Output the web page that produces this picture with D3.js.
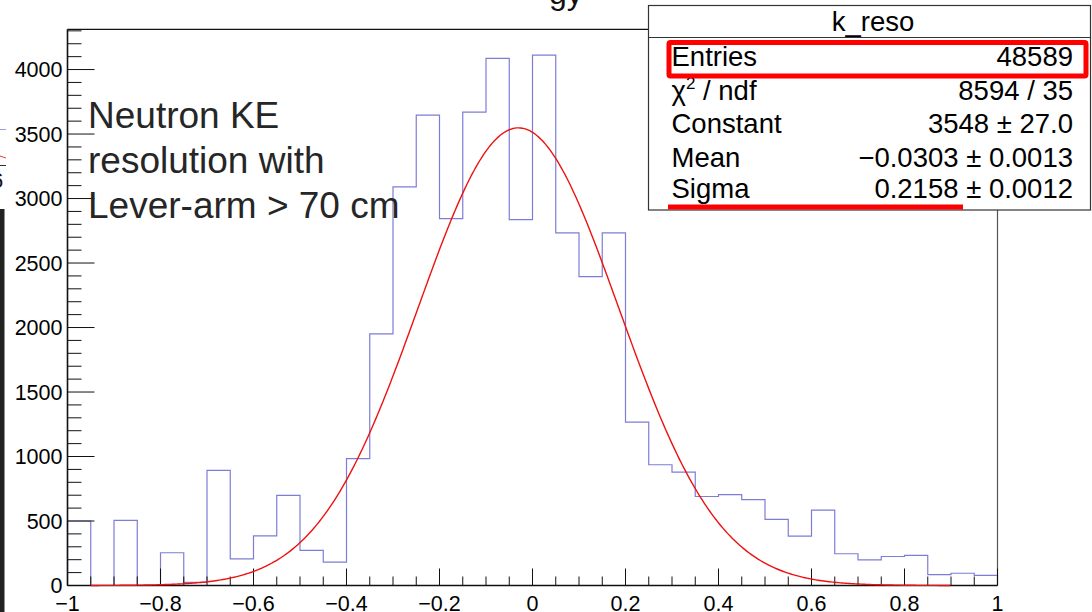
<!DOCTYPE html>
<html>
<head>
<meta charset="utf-8">
<script src="https://cdn.jsdelivr.net/npm/d3@7/dist/d3.min.js"></script>
<style>
  html, body { margin: 0; padding: 0; background: #ffffff; overflow: hidden; }
  svg { display: block; font-family: "Liberation Sans", Arial, Helvetica, sans-serif; }
</style>
</head>
<body>
<svg id="chart" width="1092" height="612"></svg>
<script>
// ---------------- data ----------------
const binLow = -1;
const binWidth = 0.05;
const binCounts = [
  500, 0, 505, 0, 254, 25, 892, 207, 385, 698,
  272, 181, 983, 1950, 3090, 3646, 2845, 3670, 4086, 2837,
  4112, 2733, 2395, 2733, 1267, 936, 879, 690, 704, 665,
  512, 383, 584, 246, 199, 225, 233, 85, 95, 78
];
const fitConstant = 3548;
const fitMean = -0.0303;
const fitSigma = 0.2158;
const fitRange = [-0.95, 0.9];

const xTickValues = [-1, -0.8, -0.6, -0.4, -0.2, 0, 0.2, 0.4, 0.6, 0.8, 1];
const yTickValues = [0, 500, 1000, 1500, 2000, 2500, 3000, 3500, 4000];

const statsTitle = "k_reso";
const statLabels = ["Entries", "χ2 / ndf", "Constant", "Mean", "Sigma"];
const statValues = ["48589", "8594 / 35", "3548 ± 27.0", "\u22120.0303 ± 0.0013", "0.2158 ± 0.0012"];

const noteLines = ["Neutron KE", "resolution with", "Lever-arm > 70 cm"];
const titleFragment = "gy";

// ---------------- layout ----------------
const svg = d3.select("#chart");
const W = 1092, H = 612;
const x = d3.scaleLinear().domain([-1, 1]).range([67.5, 997.5]);
const y = d3.scaleLinear().domain([0, 4312]).range([585.5, 29.3]);
const fmt = v => (v < 0 ? "\u2212" : "") + d3.format("")(Math.abs(v));

// left-edge slide artifacts
svg.append("rect").attr("x", 0).attr("y", 209).attr("width", 4.5).attr("height", H - 209).attr("fill", "#222");
svg.append("line").attr("x1", 0).attr("x2", 6).attr("y1", 129.5).attr("y2", 129.5).attr("stroke", "#9aa0d8").attr("stroke-width", 1);
svg.append("line").attr("x1", 0).attr("x2", 6).attr("y1", 156).attr("y2", 158).attr("stroke", "#e04040").attr("stroke-width", 1);
svg.append("line").attr("x1", 0).attr("x2", 6).attr("y1", 165.5).attr("y2", 165.5).attr("stroke", "#333").attr("stroke-width", 1);
svg.append("text").attr("x", -9).attr("y", 188).attr("font-size", 22).attr("fill", "#111").text("6");

// cut-off title fragment
svg.append("text").attr("x", 549).attr("y", 4).attr("font-size", 32).attr("fill", "#111").text(titleFragment);

// frame
const frame = svg.append("g");
frame.append("line").attr("x1", x(-1)).attr("x2", x(1)).attr("y1", y.range()[1]).attr("y2", y.range()[1])
  .attr("stroke", "#111").attr("stroke-width", 1.2);
frame.append("line").attr("x1", x(1)).attr("x2", x(1)).attr("y1", y.range()[1]).attr("y2", y(0))
  .attr("stroke", "#555").attr("stroke-width", 1.2);

// histogram
const histPts = [[x(binLow), y(0)]];
binCounts.forEach((c, i) => {
  const a = binLow + i * binWidth, b = a + binWidth;
  histPts.push([x(a), y(c)]);
  histPts.push([x(b), y(c)]);
});
histPts.push([x(binLow + binCounts.length * binWidth), y(0)]);
svg.append("path")
  .attr("d", d3.line()(histPts))
  .attr("fill", "none")
  .attr("stroke", "rgb(125,125,215)")
  .attr("stroke-width", 1.2);

// axes
const yMinor = d3.range(0, 4301, 100);
const yAxis = svg.append("g").attr("transform", `translate(${x(-1)},0)`);
yAxis.selectAll("line.minor").data(yMinor).join("line")
  .attr("x1", 0).attr("x2", d => d % 500 === 0 ? 27 : 14)
  .attr("y1", d => y(d)).attr("y2", d => y(d))
  .attr("stroke", "#111").attr("stroke-width", 1);
yAxis.append("line").attr("x1", 0).attr("x2", 0).attr("y1", y.range()[1]).attr("y2", y(0))
  .attr("stroke", "#111").attr("stroke-width", 1.6);
yAxis.selectAll("text").data(yTickValues).join("text")
  .attr("x", -5).attr("y", d => y(d)).attr("dy", "0.36em")
  .attr("text-anchor", "end").attr("font-size", 21.5).attr("fill", "#000")
  .text(d => fmt(d));

const xMinor = d3.range(0, 41).map(i => -1 + i * 0.05);
const xAxis = svg.append("g").attr("transform", `translate(0,${y(0)})`);
xAxis.selectAll("line").data(xMinor).join("line")
  .attr("x1", d => x(d)).attr("x2", d => x(d))
  .attr("y1", 0).attr("y2", (d, i) => i % 4 === 0 ? -17 : -9)
  .attr("stroke", "#111").attr("stroke-width", 1);
xAxis.append("line").attr("x1", x(-1)).attr("x2", x(1)).attr("y1", 0).attr("y2", 0)
  .attr("stroke", "#111").attr("stroke-width", 1.6);
xAxis.selectAll("text").data(xTickValues).join("text")
  .attr("x", d => x(d)).attr("y", 25.5)
  .attr("text-anchor", "middle").attr("font-size", 21.5).attr("fill", "#000")
  .text(d => fmt(Math.round(d * 10) / 10));

// gaussian fit
const gauss = v => fitConstant * Math.exp(-0.5 * Math.pow((v - fitMean) / fitSigma, 2));
const fitXs = d3.range(fitRange[0], fitRange[1] + 1e-9, 0.004);
svg.append("path")
  .attr("d", d3.line().x(d => x(d)).y(d => y(gauss(d)))(fitXs))
  .attr("fill", "none").attr("stroke", "#ee1111").attr("stroke-width", 1.4);

// annotation text
svg.append("g").selectAll("text").data(noteLines).join("text")
  .attr("x", 88).attr("y", (d, i) => 128 + i * 45)
  .attr("font-size", 37).attr("fill", "#262626")
  .text(d => d);

// stats box
const box = { x0: 648.5, y0: 5.5, x1: 1090.5, y1: 210, hdr: 37.5 };
const stats = svg.append("g");
stats.append("rect").attr("x", box.x0).attr("y", box.y0).attr("width", box.x1 - box.x0).attr("height", box.y1 - box.y0)
  .attr("fill", "#fff").attr("stroke", "#333").attr("stroke-width", 1.2);
stats.append("line").attr("x1", box.x0).attr("x2", box.x1).attr("y1", box.hdr).attr("y2", box.hdr)
  .attr("stroke", "#333").attr("stroke-width", 1.2);
stats.append("text").attr("x", 873).attr("y", 31).attr("text-anchor", "middle")
  .attr("font-size", 27.5).attr("fill", "#000").text(statsTitle);
const rowY = [66, 99.5, 133, 166.5, 197.5];
statLabels.forEach((lab, i) => {
  const t = stats.append("text").attr("x", 671.5).attr("y", rowY[i]).attr("font-size", 27.5).attr("fill", "#000");
  if (lab.startsWith("χ2")) {
    t.append("tspan").text("χ");
    t.append("tspan").attr("font-size", 17).attr("dy", -11).text("2");
    t.append("tspan").attr("dy", 11).text(lab.slice(2));
  } else {
    t.text(lab);
  }
  stats.append("text").attr("x", 1073).attr("y", rowY[i]).attr("text-anchor", "end")
    .attr("font-size", 27.5).attr("fill", "#000").text(statValues[i]);
});

// red highlight annotations
svg.append("rect").attr("x", 669).attr("y", 42.5).attr("width", 1086 - 669).attr("height", 76 - 42.5)
  .attr("fill", "none").attr("stroke", "#ff0000").attr("stroke-width", 5).attr("rx", 1.5);
svg.append("line").attr("x1", 668).attr("x2", 963).attr("y1", 207).attr("y2", 207)
  .attr("stroke", "#ff0000").attr("stroke-width", 5);
</script>
</body>
</html>
